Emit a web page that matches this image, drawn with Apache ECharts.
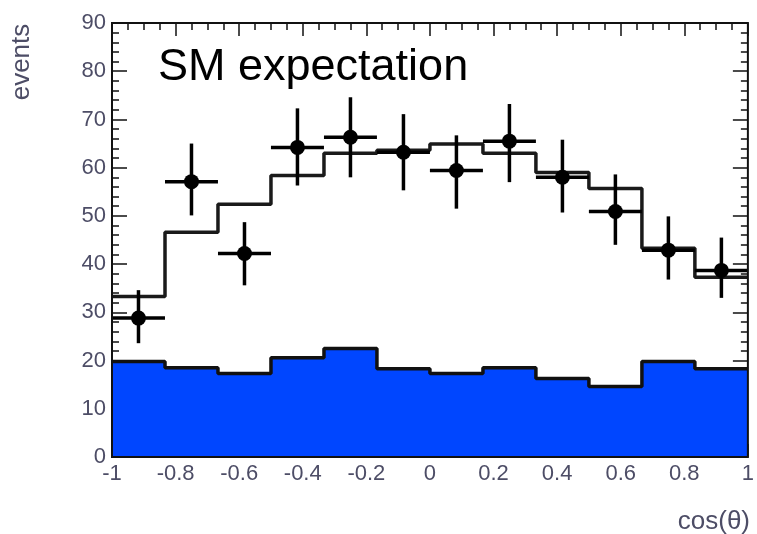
<!DOCTYPE html>
<html><head><meta charset="utf-8">
<script src="https://cdn.jsdelivr.net/npm/echarts@6/dist/echarts.min.js"></script>
<style>html,body{margin:0;padding:0;background:#fff}#c{width:757px;height:534px}</style>
</head><body><div id="c"></div>
<script>
// ---- data ----
const binEdges = [-1, -0.8333, -0.6667, -0.5, -0.3333, -0.1667, 0, 0.1667, 0.3333, 0.5, 0.6667, 0.8333, 1];
const binCenters = [-0.9167, -0.75, -0.5833, -0.4167, -0.25, -0.0833, 0.0833, 0.25, 0.4167, 0.5833, 0.75, 0.9167];
const smExpectation = [33.3, 46.6, 52.4, 58.4, 63, 63.6, 64.9, 63, 59, 55.7, 43.3, 37.3];
const background = [19.8, 18.5, 17.3, 20.6, 22.5, 18.3, 17.3, 18.5, 16.3, 14.6, 19.8, 18.3];
const dataValues = [28.8, 57.1, 42.2, 64.2, 66.3, 63.2, 59.4, 65.5, 58, 50.9, 42.9, 38.7];
const dataLow  = [23.6, 50.1, 35.6, 56.3, 58, 55.3, 51.5, 57, 50.7, 44, 36.8, 33];
const dataHigh = [34.6, 65, 48.7, 72.3, 74.6, 71.1, 66.7, 73.2, 65.8, 58.6, 49.9, 45.5];
const xTickLabels = ['-1', '-0.8', '-0.6', '-0.4', '-0.2', '0', '0.2', '0.4', '0.6', '0.8', '1'];
const yTickLabels = ['0', '10', '20', '30', '40', '50', '60', '70', '80', '90'];

const labelColor = '#4d4d66';
const font = '"Liberation Sans", Arial, sans-serif';

function stepData(vals) {
  return binEdges.map((e, i) => [e, vals[Math.min(i, vals.length - 1)]]);
}
const pointData = binCenters.map((c, i) => [c, dataValues[i], dataLow[i], dataHigh[i], (binEdges[i + 1] - binEdges[i]) / 2]);

const tickStyle = { color: '#111', width: 1.5 };
function axisDef(extra, minorSplit, majorLen) {
  return Object.assign({
    type: 'value',
    axisLine: { show: false, onZero: false },
    splitLine: { show: false },
    axisTick: { show: true, inside: true, length: majorLen, lineStyle: tickStyle },
    minorTick: { show: true, splitNumber: minorSplit, length: 7, lineStyle: tickStyle },
    minorSplitLine: { show: false }
  }, extra);
}

const chart = echarts.init(document.getElementById('c'), null, { renderer: 'canvas' });
chart.setOption({
  animation: false,
  backgroundColor: '#fff',
  grid: { left: 112, right: 4, top: 23, bottom: 77, show: true, borderColor: '#111', borderWidth: 2, backgroundColor: 'transparent', z: 10 },
  xAxis: [
    axisDef({ min: -1, max: 1, interval: 0.2, position: 'bottom',
      axisLabel: { fontSize: 22, fontFamily: font, color: labelColor, margin: 6,
        formatter: (v, i) => xTickLabels[i] } }, 4, 13),
    axisDef({ min: -1, max: 1, interval: 0.2, position: 'top',
      axisLabel: { show: false } }, 4, 13)
  ],
  yAxis: [
    axisDef({ min: 0, max: 90, interval: 10, position: 'left',
      axisLabel: { fontSize: 22, fontFamily: font, color: labelColor, margin: 6,
        formatter: (v, i) => yTickLabels[i] } }, 5, 15),
    axisDef({ min: 0, max: 90, interval: 10, position: 'right',
      axisLabel: { show: false } }, 5, 15)
  ],
  series: [
    { type: 'line', name: 'background', step: 'end', data: stepData(background), symbol: 'none',
      lineStyle: { color: '#111', width: 3.5 }, areaStyle: { color: '#0046ff', opacity: 1 }, z: 2 },
    { type: 'line', name: 'SM expectation', step: 'end', data: stepData(smExpectation), symbol: 'none',
      lineStyle: { color: '#1a1a1a', width: 3.5 }, z: 3 },
    { type: 'custom', name: 'data', data: pointData, z: 4,
      renderItem: function (params, api) {
        const x = api.value(0), y = api.value(1), lo = api.value(2), hi = api.value(3), hw = api.value(4);
        const c = api.coord([x, y]);
        const l = api.coord([x - hw, y]);
        const r = api.coord([x + hw, y]);
        const t = api.coord([x, hi]);
        const b = api.coord([x, lo]);
        const st = { stroke: '#000', lineWidth: 3.5 };
        return { type: 'group', children: [
          { type: 'line', shape: { x1: l[0], y1: l[1], x2: r[0], y2: r[1] }, style: st },
          { type: 'line', shape: { x1: t[0], y1: t[1], x2: b[0], y2: b[1] }, style: st },
          { type: 'circle', shape: { cx: c[0], cy: c[1], r: 7.5 }, style: { fill: '#000' } }
        ]};
      } }
  ],
  graphic: [
    { type: 'text', left: 158, top: 45, z: 20,
      style: { text: 'SM expectation', font: '45px "Liberation Sans", Arial, sans-serif', fill: '#000' } },
    { type: 'text', x: 22, y: 62, rotation: Math.PI / 2, z: 20,
      style: { text: 'events', font: '26px "Liberation Sans", Arial, sans-serif', fill: labelColor, align: 'center', verticalAlign: 'middle' } },
    { type: 'text', x: 750, y: 522, z: 20,
      style: { text: 'cos(θ)', font: '26px "Liberation Sans", Arial, sans-serif', fill: labelColor, align: 'right', verticalAlign: 'middle' } }
  ]
});
</script>
</body></html>
